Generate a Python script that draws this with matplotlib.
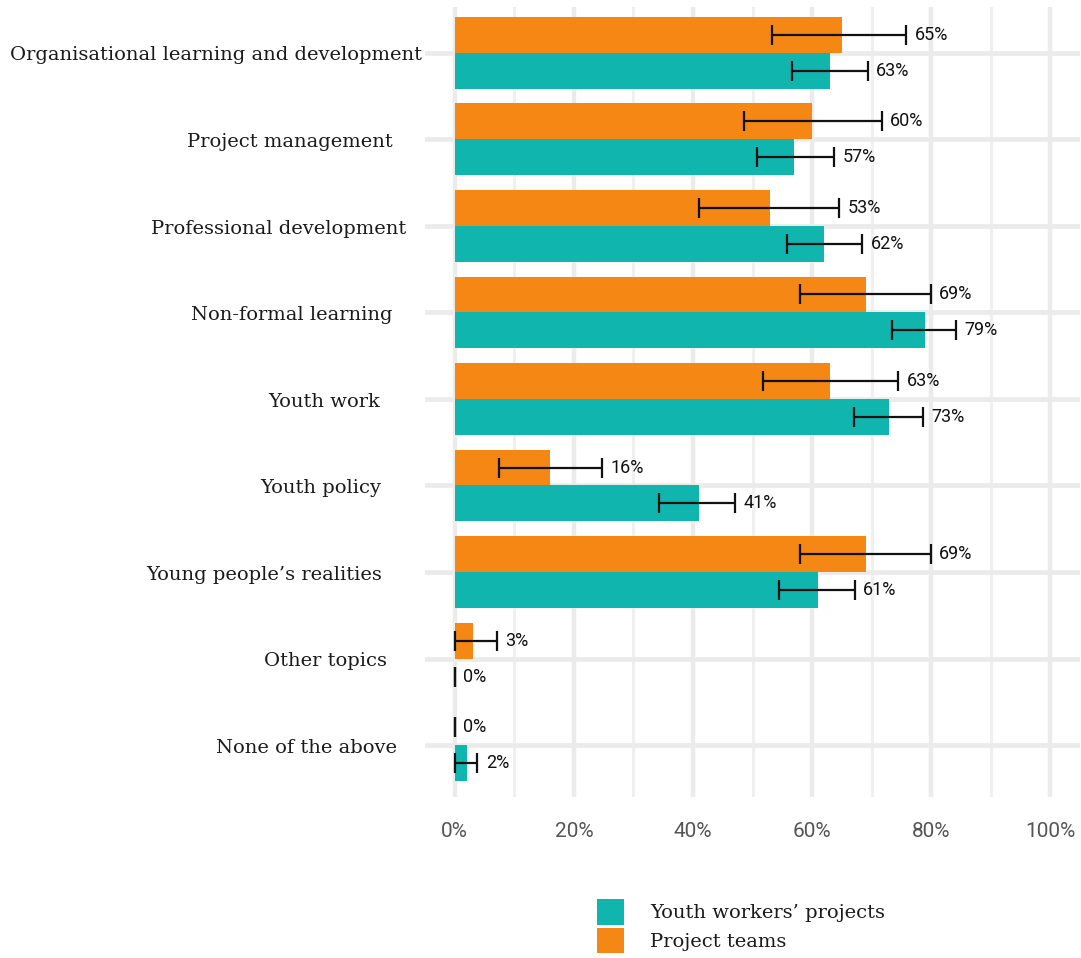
import matplotlib.pyplot as plt
from matplotlib.patches import Patch
from matplotlib.ticker import FuncFormatter
import numpy as np

# Topics, top to bottom
topics = [
    "Organisational learning and development",
    "Project management",
    "Professional development",
    "Non-formal learning",
    "Youth work",
    "Youth policy",
    "Young people\u2019s realities",
    "Other topics",
    "None of the above",
]

# Project teams: share (%) and confidence interval bounds
teams_pct = [65, 60, 53, 69, 63, 16, 69, 3, 0]
teams_low = [53.2, 48.5, 41.0, 58.0, 51.7, 7.4, 58.0, 0.0, 0.0]
teams_high = [75.8, 71.7, 64.6, 79.9, 74.5, 24.8, 79.9, 7.1, 0.0]

# Youth workers' projects
workers_pct = [63, 57, 62, 79, 73, 41, 61, 0, 2]
workers_low = [56.7, 50.7, 55.8, 73.4, 67.1, 34.3, 54.4, 0.0, 0.0]
workers_high = [69.4, 63.7, 68.4, 84.2, 78.7, 47.1, 67.2, 0.0, 3.8]

ORANGE = "#F58714"
TEAL = "#10B5AE"
GRID = "#EBEBEB"

# right edge of each topic label, in x data units (left of the 0% line)
label_right = [-5.5, -10.4, -8.2, -10.4, -12.6, -12.4, -12.2, -11.4, -9.7]

fig = plt.figure(figsize=(10.81, 9.58), dpi=100)
ax = fig.add_axes([425 / 1081, 1 - 797 / 958, 655 / 1081, 790 / 958])

y = np.arange(len(topics))
h = 0.415


def draw_series(pct, low, high, offset, color):
    pct = np.array(pct, dtype=float)
    low = np.array(low)
    high = np.array(high)
    ax.barh(y + offset, pct, height=h, color=color, zorder=2)
    ax.errorbar(pct, y + offset, xerr=[pct - low, high - pct], fmt="none",
                ecolor="#111111", elinewidth=1.6, capsize=7, capthick=1.6,
                zorder=3)
    for yy, v, hi in zip(y + offset, pct, high):
        ax.text(hi + 1.4, yy, f"{v:.0f}%", va="center", ha="left",
                fontsize=13, color="#111111", family="Roboto", zorder=4)


draw_series(teams_pct, teams_low, teams_high, -h / 2, ORANGE)
draw_series(workers_pct, workers_low, workers_high, h / 2, TEAL)

ax.set_xlim(-5, 105)
ax.set_ylim(8.6, -0.53)

ax.set_xticks(range(0, 101, 20))
ax.set_xticks(range(10, 100, 20), minor=True)
ax.xaxis.set_major_formatter(FuncFormatter(lambda v, _: f"{v:.0f}%"))
ax.set_yticks(y)
ax.set_yticklabels([])
ax.tick_params(axis="both", which="both", length=0)
ax.tick_params(axis="x", pad=18, labelsize=15, labelcolor="#555555")
for lab in ax.get_xticklabels():
    lab.set_family("Roboto")

ax.grid(axis="x", which="major", color=GRID, lw=3.2, zorder=0)
ax.grid(axis="x", which="minor", color="#F0F0F0", lw=2.2, zorder=0)
ax.grid(axis="y", which="major", color=GRID, lw=3.4, zorder=0)
ax.set_axisbelow(True)
for s in ax.spines.values():
    s.set_visible(False)

for yy, name, xr in zip(y, topics, label_right):
    ax.text(xr, yy + 0.03, name, ha="right", va="center", fontsize=14,
            family="DejaVu Serif", color="#1a1a1a", clip_on=False)

handles = [Patch(facecolor=TEAL, label="Youth workers\u2019 projects"),
           Patch(facecolor=ORANGE, label="Project teams")]
fig.legend(handles=handles, loc="upper left",
           bbox_to_anchor=(597 / 1081, 1 - 899 / 958), frameon=False,
           prop={"family": "DejaVu Serif", "size": 14},
           handlelength=1.39, handleheight=1.65, handletextpad=1.35,
           labelspacing=0.15, borderpad=0, borderaxespad=0,
           labelcolor="#1a1a1a")

fig.savefig("out.png", dpi=100, facecolor="white")
